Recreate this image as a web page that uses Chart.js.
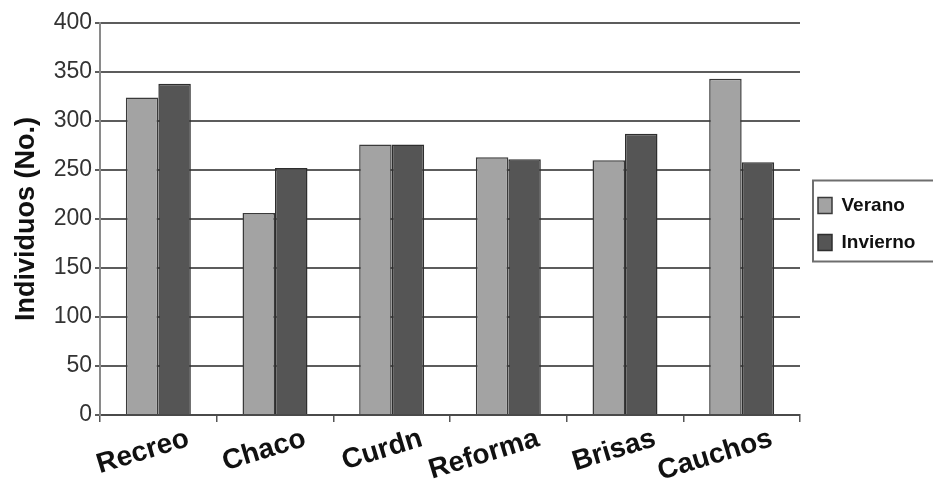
<!DOCTYPE html>
<html>
<head>
<meta charset="utf-8">
<script src="https://cdn.jsdelivr.net/npm/chart.js@4/dist/chart.umd.min.js"></script>
<style>
  html, body { margin: 0; padding: 0; background: #ffffff; }
  #wrap { width: 933px; height: 481px; }
</style>
</head>
<body>
<div id="wrap"><canvas id="chart" width="933" height="481"></canvas></div>
<script>
// Individuals counted per site, summer vs winter
const categories = ['Recreo', 'Chaco', 'Curdn', 'Reforma', 'Brisas', 'Cauchos'];
const verano   = [324, 206, 276, 263, 260, 343];
const invierno = [338, 252, 276, 261, 287, 258];
const seriesNames = ['Verano', 'Invierno'];
const yMin = 0;
const yMax = 400;
const yStep = 50;
const yTitle = 'Individuos (No.)';

const FONT = "'Liberation Sans', Arial, sans-serif";

// Legend keeps a fixed width so the plot ends where the legend begins,
// and sits a little below the plot's vertical centre
const legendSizing = {
  id: 'legendSizing',
  beforeLayout(chart) {
    const lg = chart.legend;
    if (lg && !lg._fixedFit) {
      const orig = lg.fit.bind(lg);
      lg.fit = function () { orig(); this.width = 133; };
      lg._fixedFit = true;
    }
  },
  afterLayout(chart) {
    const lg = chart.legend;
    if (lg) { lg.top += 5; lg.bottom += 5; }
  }
};

// Framed legend box, open toward the right edge
const legendFrame = {
  id: 'legendFrame',
  afterDraw(chart) {
    const lg = chart.legend;
    if (!lg || !lg.legendHitBoxes || !lg.legendHitBoxes.length) return;
    const hb = lg.legendHitBoxes;
    const first = hb[0], last = hb[hb.length - 1];
    const left = first.left - 5;
    const top = first.top + first.height / 2 - 25;
    const bottom = last.top + last.height / 2 + 19;
    const ctx = chart.ctx;
    ctx.save();
    ctx.strokeStyle = '#6e6e6e';
    ctx.lineWidth = 2;
    ctx.strokeRect(left, top, chart.width - left + 10, bottom - top);
    ctx.restore();
  }
};

new Chart(document.getElementById('chart'), {
  type: 'bar',
  data: {
    labels: categories,
    datasets: [
      {
        label: seriesNames[0],
        data: verano,
        backgroundColor: '#a3a3a3',
        borderColor: '#3a3a3a',
        borderWidth: 1.5
      },
      {
        label: seriesNames[1],
        data: invierno,
        backgroundColor: '#555555',
        borderColor: '#2e2e2e',
        borderWidth: 1.5
      }
    ]
  },
  options: {
    responsive: false,
    animation: false,
    devicePixelRatio: 1,
    layout: { padding: { top: 23, right: 0, bottom: 0, left: 0 } },
    datasets: {
      bar: { categoryPercentage: 0.557, barPercentage: 1.0 }
    },
    plugins: {
      tooltip: { enabled: false },
      legend: {
        position: 'right',
        fullSize: false,
        labels: {
          boxWidth: 14,
          boxHeight: 16,
          padding: 18,
          color: '#111111',
          font: { family: FONT, size: 19, weight: 'bold' }
        }
      }
    },
    scales: {
      x: {
        offset: true,
        grid: {
          display: true,
          drawOnChartArea: false,
          drawTicks: true,
          tickLength: 7,
          offset: true,
          color: '#555555',
          lineWidth: 1.5
        },
        border: { display: true, color: '#4a4a4a', width: 2 },
        ticks: {
          minRotation: 17,
          maxRotation: 17,
          autoSkip: false,
          padding: 0,
          labelOffset: 30,
          color: '#111111',
          font: { family: FONT, size: 28, weight: 'bold' }
        },
        afterFit(scale) { scale.height = 66; }
      },
      y: {
        min: yMin,
        max: yMax,
        ticks: {
          stepSize: yStep,
          padding: 3,
          color: '#333333',
          font: { family: FONT, size: 23 }
        },
        grid: {
          color: '#5c5c5c',
          lineWidth: 2,
          tickLength: 5,
          drawTicks: true
        },
        border: { display: true, color: '#8a8a8a', width: 2 },
        title: {
          display: true,
          text: yTitle,
          color: '#111111',
          padding: { top: 10, bottom: 0 },
          font: { family: FONT, size: 27, weight: 'bold' }
        },
        afterFit(scale) { scale.width = 100; }
      }
    }
  },
  plugins: [legendSizing, legendFrame]
});
</script>
</body>
</html>
